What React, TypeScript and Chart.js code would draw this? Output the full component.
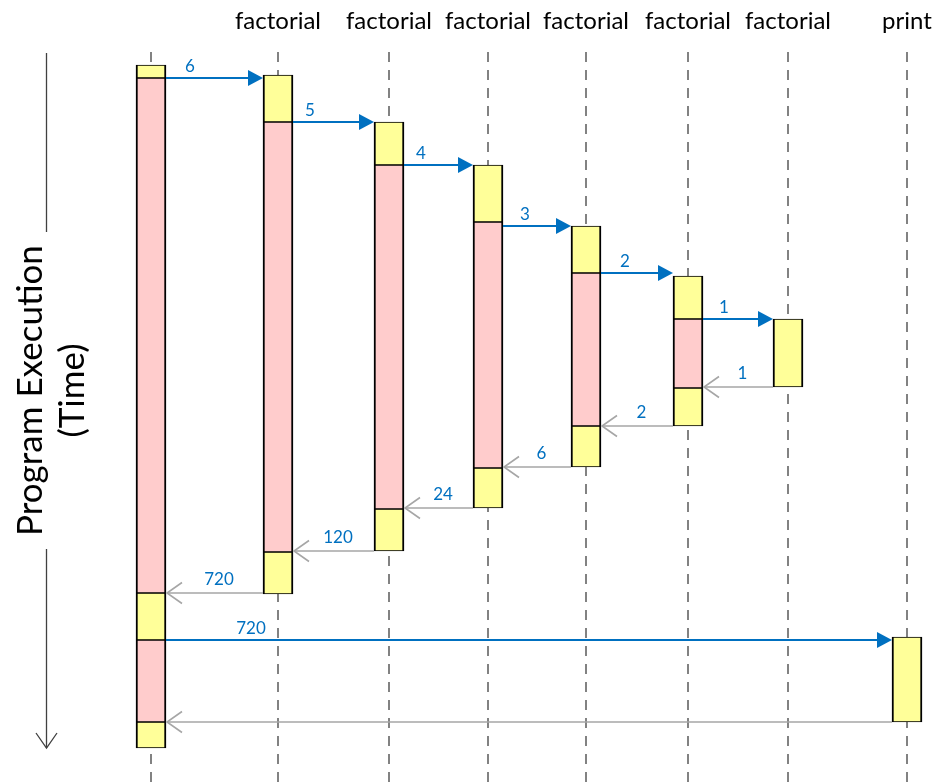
import React, { useEffect, useRef } from 'react';
import { Chart, registerables } from 'chart.js';

Chart.register(...registerables);

// ---------- data ----------
const headers = ['', 'factorial', 'factorial', 'factorial', 'factorial', 'factorial', 'factorial', 'print'];
// lane position of each participant along the horizontal axis
const laneX = [151, 278, 389, 488, 586, 688, 788, 907];
const lifelineStart = 52;
const lifelineEnd = 782;

// activation segments (time values)
const segLane = [0, 0, 0, 0, 0, 1, 1, 1, 2, 2, 2, 3, 3, 3, 4, 4, 4, 5, 5, 5, 6, 7];
const segStart = [65, 78, 593, 640, 722, 75, 122, 552, 122, 165, 509, 165, 222, 468, 226, 273, 426, 276, 319, 388, 319, 637];
const segEnd = [78, 593, 640, 722, 748, 122, 552, 594, 165, 509, 551, 222, 468, 508, 273, 426, 467, 319, 388, 426, 387, 722];
const segWaiting = [0, 1, 0, 1, 0, 0, 1, 0, 0, 1, 0, 0, 1, 0, 0, 1, 0, 0, 1, 0, 0, 0];

// call messages
const callFrom = [0, 1, 2, 3, 4, 5, 0];
const callTo = [1, 2, 3, 4, 5, 6, 7];
const callTime = [78, 122, 165, 226, 273, 319, 640];
const callLabel = ['6', '5', '4', '3', '2', '1', '720'];

// return messages
const retFrom = [6, 5, 4, 3, 2, 1, 7];
const retTo = [5, 4, 3, 2, 1, 0, 0];
const retTime = [387, 426, 467, 508, 551, 593, 722];
const retLabel = ['1', '2', '6', '24', '120', '720', ''];

// time axis extent
const timeAxisUpper = [53, 232];
const timeAxisLower = [549, 748];

// ---------- layout / style ----------
const HALF = 15;
const callLabelDx = [24, 17, 17, 22, 24, 21, 85];
const FONT = 'Lato, "Open Sans", sans-serif';
const BLUE = '#0070C0';
const GREY = '#A6A6A6';

const seqPlugin = {
  id: 'seq',
  beforeDatasetsDraw(chart: any) {
    const { ctx } = chart;
    const xs = chart.scales.x;
    const ys = chart.scales.y;
    ctx.save();
    // headers
    ctx.fillStyle = '#000';
    ctx.font = `24px ${FONT}`;
    ctx.textAlign = 'center';
    ctx.textBaseline = 'middle';
    headers.forEach((h, i) => {
      if (h) ctx.fillText(h, xs.getPixelForValue(laneX[i]), 21);
    });
    // time axis
    const ax = 46.5;
    ctx.strokeStyle = '#404040';
    ctx.lineWidth = 1.3;
    ctx.beginPath();
    ctx.moveTo(ax, ys.getPixelForValue(timeAxisUpper[0]));
    ctx.lineTo(ax, ys.getPixelForValue(timeAxisUpper[1]));
    ctx.moveTo(ax, ys.getPixelForValue(timeAxisLower[0]));
    ctx.lineTo(ax, ys.getPixelForValue(timeAxisLower[1]));
    ctx.stroke();
    const tipY = ys.getPixelForValue(timeAxisLower[1]);
    ctx.beginPath();
    ctx.moveTo(ax - 10.5, tipY - 15);
    ctx.lineTo(ax, tipY);
    ctx.lineTo(ax + 10.5, tipY - 15);
    ctx.stroke();
    // rotated title
    const cy = (ys.getPixelForValue(timeAxisUpper[1]) + ys.getPixelForValue(timeAxisLower[0])) / 2;
    ctx.font = `35px ${FONT}`;
    ctx.fillStyle = '#000';
    ctx.translate(31, cy);
    ctx.rotate(-Math.PI / 2);
    ctx.fillText('Program Execution', 0, 0);
    ctx.fillText('(Time)', 0, 42);
    ctx.restore();
  },
  afterDatasetsDraw(chart: any) {
    const { ctx } = chart;
    const xs = chart.scales.x;
    const ys = chart.scales.y;
    ctx.save();
    ctx.lineCap = 'butt';
    // calls
    callTime.forEach((t, i) => {
      const a = xs.getPixelForValue(laneX[callFrom[i]]);
      const b = xs.getPixelForValue(laneX[callTo[i]]);
      const dir = Math.sign(b - a);
      const x1 = a + dir * HALF;
      const x2 = b - dir * HALF;
      const y = ys.getPixelForValue(t);
      ctx.strokeStyle = BLUE;
      ctx.lineWidth = 2;
      ctx.beginPath();
      ctx.moveTo(x1, y);
      ctx.lineTo(x2 - dir * 12, y);
      ctx.stroke();
      ctx.fillStyle = BLUE;
      ctx.beginPath();
      ctx.moveTo(x2, y);
      ctx.lineTo(x2 - dir * 15, y - 8);
      ctx.lineTo(x2 - dir * 15, y + 8);
      ctx.closePath();
      ctx.fill();
      ctx.font = `17px ${FONT}`;
      ctx.textAlign = 'center';
      ctx.textBaseline = 'alphabetic';
      ctx.fillText(callLabel[i], x1 + dir * callLabelDx[i], y - 6);
    });
    // returns
    retTime.forEach((t, i) => {
      const a = xs.getPixelForValue(laneX[retFrom[i]]);
      const b = xs.getPixelForValue(laneX[retTo[i]]);
      const dir = Math.sign(b - a);
      const x1 = a + dir * HALF;
      const x2 = b - dir * HALF - dir;
      const y = ys.getPixelForValue(t);
      ctx.strokeStyle = GREY;
      ctx.lineWidth = 1.6;
      ctx.beginPath();
      ctx.moveTo(x1, y);
      ctx.lineTo(x2, y);
      ctx.stroke();
      ctx.beginPath();
      ctx.moveTo(x2 - dir * 15, y - 10.5);
      ctx.lineTo(x2, y);
      ctx.lineTo(x2 - dir * 15, y + 10.5);
      ctx.stroke();
      if (retLabel[i]) {
        ctx.fillStyle = BLUE;
        ctx.font = `17px ${FONT}`;
        ctx.textAlign = 'center';
        ctx.textBaseline = 'alphabetic';
        ctx.fillText(retLabel[i], (x1 + x2) / 2 + 4, y - 8);
      }
    });
    ctx.restore();
  },
};

export default function App() {
  const ref = useRef<HTMLCanvasElement | null>(null);
  useEffect(() => {
    document.body.style.margin = '0';
    const canvas = ref.current;
    if (!canvas) return;

    const lifelines = laneX.map((x) => ({
      type: 'line' as const,
      data: [
        { x, y: lifelineStart },
        { x, y: lifelineEnd },
      ],
      borderColor: '#404040',
      borderWidth: 1.3,
      borderDash: [10, 8],
      pointRadius: 0,
      order: 10,
    }));

    const makeBars = (waiting: number, color: string) => ({
      type: 'bar' as const,
      data: segLane
        .map((lane, i) => ({ lane, i }))
        .filter((d) => segWaiting[d.i] === waiting)
        .map((d) => ({ x: laneX[d.lane], y: [segStart[d.i], segEnd[d.i]] })),
      backgroundColor: color,
      borderColor: '#000',
      borderWidth: { left: 2, right: 2, top: 1.2, bottom: 1.2 },
      borderSkipped: false,
      barThickness: 30,
      grouped: false,
      order: 1,
    });

    const chart = new Chart(canvas, {
      type: 'bar',
      data: {
        datasets: [...lifelines, makeBars(1, '#FFCCCC'), makeBars(0, '#FFFF99')] as any,
      },
      options: {
        animation: false,
        responsive: false,
        events: [],
        layout: { padding: 0 },
        plugins: { legend: { display: false }, tooltip: { enabled: false } },
        scales: {
          x: { type: 'linear', min: 0, max: 933, display: false, offset: false, grid: { offset: false } },
          y: { type: 'linear', min: 0, max: 782, reverse: true, display: false },
        },
      },
      plugins: [seqPlugin],
    });
    return () => chart.destroy();
  }, []);

  return (
    <div style={{ width: 933, height: 782, background: '#fff' }}>
      <canvas ref={ref} width={933} height={782} />
    </div>
  );
}
